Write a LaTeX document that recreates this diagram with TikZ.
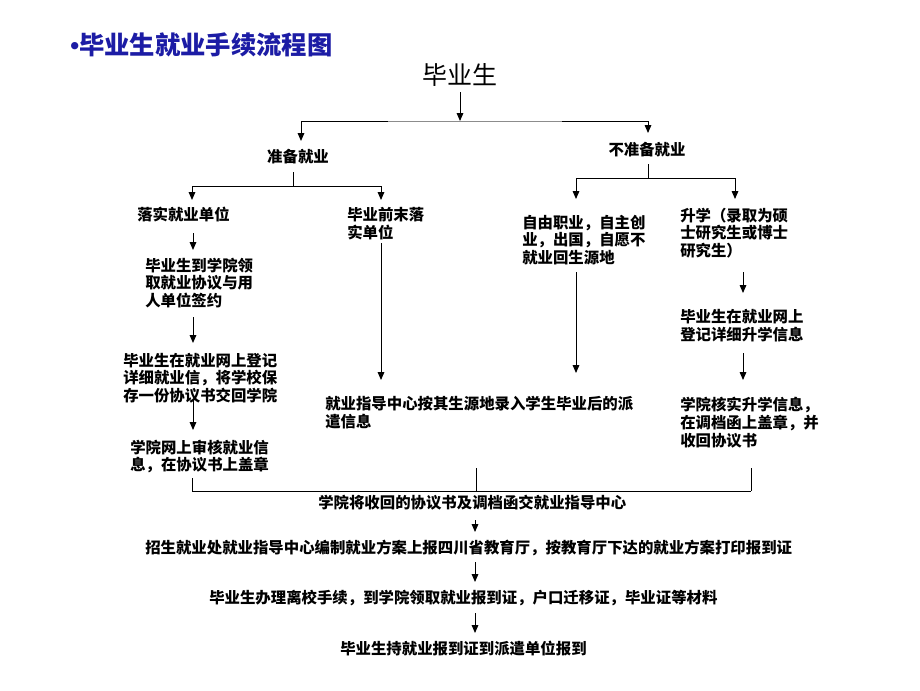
\documentclass[tikz,border=0pt]{standalone}
\usepackage{fontspec}
\newfontfamily\cjk{Noto Sans CJK SC}
\newfontfamily\lat{Liberation Sans}
\usetikzlibrary{arrows.meta}
\definecolor{titleblue}{RGB}{28,28,165}
\definecolor{seggray}{RGB}{140,140,140}
\begin{document}
\begin{tikzpicture}[x=0.75pt,y=-0.75pt,
  txt/.style={inner sep=0pt, font=\cjk\bfseries\fontsize{11.55}{13.3}\selectfont, align=left, anchor=west},
  ln/.style={line width=0.75pt},
  arr/.style={ln, -{Triangle[length=6pt,width=5pt]}}]
\useasboundingbox (0,0) rectangle (920,690);
\fill[white] (0,0) rectangle (920,690);

% title
\node[inner sep=0pt, anchor=west, text=titleblue, font=\cjk\bfseries\fontsize{19}{20}\selectfont] (title) at (70,45) {{\lat •}毕业生就业手续流程图};
\node[inner sep=0pt, font=\cjk\fontsize{18.75}{20}\selectfont] (root) at (460,75) {毕业生};

% level 1
\node[txt, anchor=center] (prep) at (298,157) {准备就业};
\node[txt, anchor=center] (noprep) at (647,150) {不准备就业};

% level 2
\node[txt] (a1) at (137,215) {落实就业单位};
\node[txt] (a2) at (347,223.5) {毕业前末落\\实单位};
\node[txt] (b1) at (522,240) {自由职业，自主创\\业，出国，自愿不\\就业回生源地};
\node[txt] (b2) at (680,233) {升学（录取为硕\\士研究生或博士\\研究生）};

% left column
\node[txt] (a11) at (145,283) {毕业生到学院领\\取就业协议与用\\人单位签约};
\node[txt] (a12) at (123,378) {毕业生在就业网上登记\\详细就业信，将学校保\\存一份协议书交回学院};
\node[txt] (a13) at (130,456.5) {学院网上审核就业信\\息，在协议书上盖章};

% middle
\node[txt] (a21) at (325,412.5) {就业指导中心按其生源地录入学生毕业后的派\\遣信息};

% right column
\node[txt] (b21) at (680,325.5) {毕业生在就业网上\\登记详细升学信息};
\node[txt] (b22) at (680,422.5) {学院核实升学信息，\\在调档函上盖章，并\\收回协议书};

% bottom
\node[txt] (c1) at (318,503) {学院将收回的协议书及调档函交就业指导中心};
\node[txt] (c2) at (145,548) {招生就业处就业指导中心编制就业方案上报四川省教育厅，按教育厅下达的就业方案打印报到证};
\node[txt] (c3) at (209,598) {毕业生办理离校手续，到学院领取就业报到证，户口迁移证，毕业证等材料};
\node[txt] (c4) at (340,649) {毕业生持就业报到证到派遣单位报到};

% coordinates
\coordinate (r0) at (460,92);
\coordinate (r1) at (460,121);
\coordinate (hl) at (301,121);
\coordinate (hr) at (648,121);
\coordinate (pl) at (301,141);
\coordinate (pr) at (648,133);

\coordinate (p0) at (293,172);
\coordinate (p1) at (293,186);
\coordinate (pa) at (192,186);
\coordinate (pb) at (381,186);
\coordinate (pa1) at (192,200);
\coordinate (pb1) at (381,200);

\coordinate (n0) at (648,164);
\coordinate (n1) at (648,178);
\coordinate (na) at (576,178);
\coordinate (nb) at (735,178);
\coordinate (na1) at (576,199);
\coordinate (nb1) at (735,199);

\coordinate (l1s) at (193,233);
\coordinate (l1e) at (193,250);
\coordinate (l2s) at (193,317);
\coordinate (l2e) at (193,343);
\coordinate (l3s) at (193,400);
\coordinate (l3e) at (193,430);
\coordinate (l4s) at (192,478);
\coordinate (l4e) at (192,491);

\coordinate (m1s) at (381,243);
\coordinate (m1e) at (381,380);
\coordinate (m2s) at (476,468);
\coordinate (m2e) at (476,491);

\coordinate (f1s) at (576,272);
\coordinate (f1e) at (576,373);

\coordinate (g1s) at (743,272);
\coordinate (g1e) at (743,293);
\coordinate (g2s) at (743,353);
\coordinate (g2e) at (743,380);
\coordinate (g3s) at (751,468);
\coordinate (g3e) at (751,491);

\coordinate (k1s) at (475,520);
\coordinate (k1e) at (475,532);
\coordinate (k2s) at (475,562);
\coordinate (k2e) at (475,582);
\coordinate (k3s) at (475,613);
\coordinate (k3e) at (475,633);

% connectors
\draw[arr] (r0) -- (r1);
\draw[ln] (hl) -- (hr);
\draw[line width=0.75pt, seggray] (388,121) -- (562,121);
\draw[arr] (hl) -- (pl);
\draw[arr] (hr) -- (pr);

\draw[ln] (p0) -- (p1);
\draw[ln] (pa) -- (pb);
\draw[arr] (pa) -- (pa1);
\draw[arr] (pb) -- (pb1);

\draw[ln] (n0) -- (n1);
\draw[ln] (na) -- (nb);
\draw[arr] (na) -- (na1);
\draw[arr] (nb) -- (nb1);

\draw[arr] (l1s) -- (l1e);
\draw[arr] (l2s) -- (l2e);
\draw[arr] (l3s) -- (l3e);
\draw[ln] (l4s) -- (l4e);

\draw[arr] (m1s) -- (m1e);
\draw[ln] (m2s) -- (m2e);

\draw[arr] (f1s) -- (f1e);

\draw[arr] (g1s) -- (g1e);
\draw[arr] (g2s) -- (g2e);
\draw[ln] (g3s) -- (g3e);

\draw[ln] (l4e) -- (g3e);

\draw[arr] (k1s) -- (k1e);
\draw[arr] (k2s) -- (k2e);
\draw[arr] (k3s) -- (k3e);
\end{tikzpicture}
\end{document}
